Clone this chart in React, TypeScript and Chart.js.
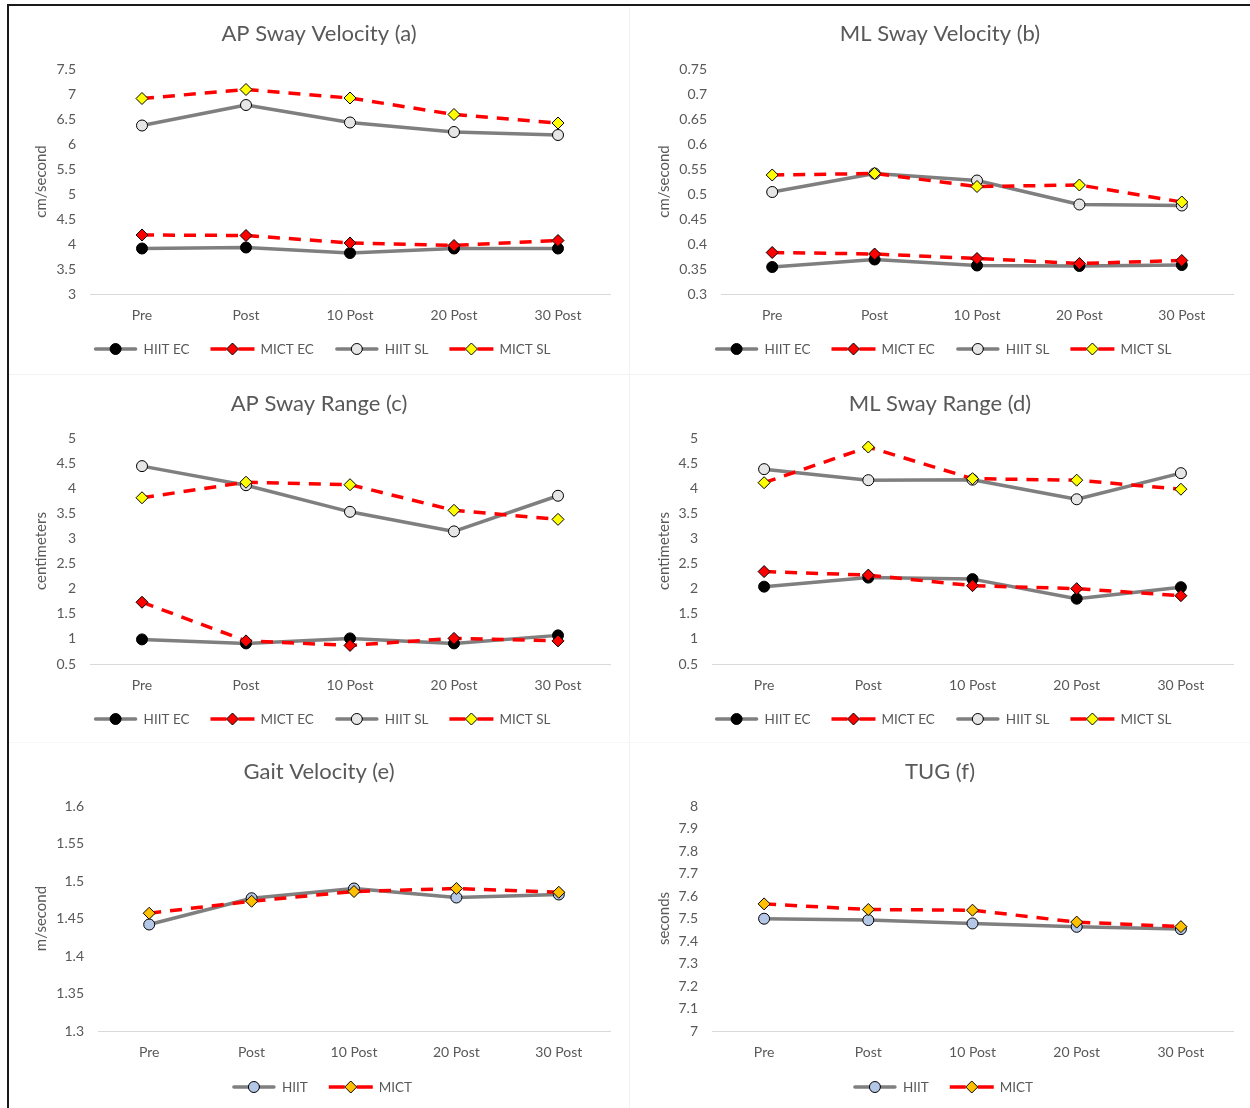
import React, { useEffect, useRef } from 'react';
import { Chart, registerables } from 'chart.js';

Chart.register(...registerables);

// ---------------- DATA ----------------
const categories = ['Pre', 'Post', '10 Post', '20 Post', '30 Post'];

const apVelHiitEC = [3.91, 3.93, 3.82, 3.91, 3.91];
const apVelMictEC = [4.18, 4.17, 4.02, 3.97, 4.07];
const apVelHiitSL = [6.37, 6.78, 6.43, 6.24, 6.18];
const apVelMictSL = [6.91, 7.09, 6.92, 6.59, 6.42];

const mlVelHiitEC = [0.354, 0.369, 0.357, 0.356, 0.358];
const mlVelMictEC = [0.383, 0.38, 0.371, 0.361, 0.367];
const mlVelHiitSL = [0.504, 0.541, 0.527, 0.479, 0.477];
const mlVelMictSL = [0.538, 0.541, 0.515, 0.518, 0.484];

const apRangeHiitEC = [0.99, 0.91, 1.01, 0.91, 1.07];
const apRangeMictEC = [1.73, 0.96, 0.87, 1.01, 0.96];
const apRangeHiitSL = [4.44, 4.06, 3.53, 3.14, 3.85];
const apRangeMictSL = [3.81, 4.12, 4.07, 3.56, 3.38];

const mlRangeHiitEC = [2.04, 2.22, 2.19, 1.8, 2.03];
const mlRangeMictEC = [2.34, 2.27, 2.06, 2.0, 1.86];
const mlRangeHiitSL = [4.38, 4.16, 4.17, 3.78, 4.3];
const mlRangeMictSL = [4.11, 4.82, 4.19, 4.16, 3.98];

const gaitHiit = [1.442, 1.477, 1.49, 1.478, 1.482];
const gaitMict = [1.457, 1.473, 1.486, 1.49, 1.485];

const tugHiit = [7.499, 7.493, 7.478, 7.463, 7.453];
const tugMict = [7.565, 7.54, 7.537, 7.484, 7.464];

// ---------------- STYLE ----------------
const FONT = 'Lato, "Open Sans", sans-serif';
const TEXT = '#595959';
const GRAY = '#7f7f7f';
const RED = '#ff0000';

type Kind = 'hiitEC' | 'mictEC' | 'hiitSL' | 'mictSL' | 'hiit' | 'mict';

const STYLES: Record<Kind, { line: string; dashed: boolean; shape: 'circle' | 'rectRot'; fill: string }> = {
  hiitEC: { line: GRAY, dashed: false, shape: 'circle', fill: '#000000' },
  mictEC: { line: RED, dashed: true, shape: 'rectRot', fill: '#ff0000' },
  hiitSL: { line: GRAY, dashed: false, shape: 'circle', fill: '#e7e6e6' },
  mictSL: { line: RED, dashed: true, shape: 'rectRot', fill: '#ffff00' },
  hiit: { line: GRAY, dashed: false, shape: 'circle', fill: '#b4c7e7' },
  mict: { line: RED, dashed: true, shape: 'rectRot', fill: '#ffc000' },
};

type SeriesSpec = { label: string; data: number[]; kind: Kind };
type PanelSpec = {
  title: string;
  yTitle: string;
  min: number;
  max: number;
  step: number;
  series: SeriesSpec[];
  box: { x: number; y: number; w: number; h: number };
  area: { l: number; r: number; t: number; b: number };
  titleY: number;
  legendY: number;
  yTitleX: number;
};

const fourSeries = (a: number[], b: number[], c: number[], d: number[]): SeriesSpec[] => [
  { label: 'HIIT EC', data: a, kind: 'hiitEC' },
  { label: 'MICT EC', data: b, kind: 'mictEC' },
  { label: 'HIIT SL', data: c, kind: 'hiitSL' },
  { label: 'MICT SL', data: d, kind: 'mictSL' },
];

const twoSeries = (a: number[], b: number[]): SeriesSpec[] => [
  { label: 'HIIT', data: a, kind: 'hiit' },
  { label: 'MICT', data: b, kind: 'mict' },
];

const PANELS: PanelSpec[] = [
  {
    title: 'AP Sway Velocity (a)', yTitle: 'cm/second', min: 3, max: 7.5, step: 0.5,
    series: fourSeries(apVelHiitEC, apVelMictEC, apVelHiitSL, apVelMictSL),
    box: { x: 9, y: 7, w: 620, h: 367 }, area: { l: 90, r: 610, t: 69, b: 294 },
    titleY: 34, legendY: 349, yTitleX: 41,
  },
  {
    title: 'ML Sway Velocity (b)', yTitle: 'cm/second', min: 0.3, max: 0.75, step: 0.05,
    series: fourSeries(mlVelHiitEC, mlVelMictEC, mlVelHiitSL, mlVelMictSL),
    box: { x: 630, y: 7, w: 620, h: 367 }, area: { l: 721, r: 1233, t: 69, b: 294 },
    titleY: 34, legendY: 349, yTitleX: 664,
  },
  {
    title: 'AP Sway Range (c)', yTitle: 'centimeters', min: 0.5, max: 5, step: 0.5,
    series: fourSeries(apRangeHiitEC, apRangeMictEC, apRangeHiitSL, apRangeMictSL),
    box: { x: 9, y: 375, w: 620, h: 367 }, area: { l: 90, r: 610, t: 438, b: 664 },
    titleY: 404, legendY: 719, yTitleX: 41,
  },
  {
    title: 'ML Sway Range (d)', yTitle: 'centimeters', min: 0.5, max: 5, step: 0.5,
    series: fourSeries(mlRangeHiitEC, mlRangeMictEC, mlRangeHiitSL, mlRangeMictSL),
    box: { x: 630, y: 375, w: 620, h: 367 }, area: { l: 712, r: 1233, t: 438, b: 664 },
    titleY: 404, legendY: 719, yTitleX: 664,
  },
  {
    title: 'Gait Velocity (e)', yTitle: 'm/second', min: 1.3, max: 1.6, step: 0.05,
    series: twoSeries(gaitHiit, gaitMict),
    box: { x: 9, y: 743, w: 620, h: 365 }, area: { l: 98, r: 610, t: 806, b: 1031 },
    titleY: 772, legendY: 1087, yTitleX: 41,
  },
  {
    title: 'TUG (f)', yTitle: 'seconds', min: 7, max: 8, step: 0.1,
    series: twoSeries(tugHiit, tugMict),
    box: { x: 630, y: 743, w: 620, h: 365 }, area: { l: 712, r: 1233, t: 806, b: 1031 },
    titleY: 772, legendY: 1087, yTitleX: 664,
  },
];

function drawMarker(ctx: CanvasRenderingContext2D, shape: string, x: number, y: number, r: number, fill: string) {
  ctx.beginPath();
  if (shape === 'circle') {
    ctx.arc(x, y, r, 0, Math.PI * 2);
  } else {
    ctx.moveTo(x - r, y);
    ctx.lineTo(x, y - r);
    ctx.lineTo(x + r, y);
    ctx.lineTo(x, y + r);
    ctx.closePath();
  }
  ctx.setLineDash([]);
  ctx.fillStyle = fill;
  ctx.fill();
  ctx.lineWidth = 1;
  ctx.strokeStyle = '#000000';
  ctx.stroke();
}

function Panel({ p }: { p: PanelSpec }) {
  const ref = useRef<HTMLCanvasElement>(null);

  useEffect(() => {
    const canvas = ref.current;
    if (!canvas) return;
    const { box, area } = p;
    const n = p.series.length;

    const decor = {
      id: 'excelDecor',
      afterDraw(chart: any) {
        const ctx: CanvasRenderingContext2D = chart.ctx;
        ctx.save();
        ctx.fillStyle = TEXT;
        ctx.textBaseline = 'middle';
        ctx.textAlign = 'center';
        ctx.font = `22px ${FONT}`;
        ctx.fillText(p.title, box.w / 2, p.titleY - box.y);

        // y axis title
        ctx.save();
        ctx.translate(p.yTitleX - box.x, (area.t + area.b) / 2 - box.y);
        ctx.rotate(-Math.PI / 2);
        ctx.font = `15px ${FONT}`;
        ctx.fillText(p.yTitle, 0, 0);
        ctx.restore();

        // legend
        ctx.font = `13.5px ${FONT}`;
        const lineLen = 44;
        const gapText = 6;
        const gapItem = 21;
        const widths = p.series.map((s) => lineLen + gapText + ctx.measureText(s.label).width);
        const total = widths.reduce((a, b) => a + b, 0) + gapItem * (n - 1);
        let x = box.w / 2 + 3 - total / 2;
        const y = p.legendY - box.y;
        p.series.forEach((s, i) => {
          const st = STYLES[s.kind];
          ctx.beginPath();
          ctx.strokeStyle = st.line;
          ctx.lineWidth = 3.5;
          if (st.dashed) {
            ctx.lineCap = 'butt';
            ctx.setLineDash([16, 12]);
          } else {
            ctx.lineCap = 'round';
            ctx.setLineDash([]);
          }
          ctx.moveTo(x + (st.dashed ? 0 : 2), y);
          ctx.lineTo(x + lineLen - (st.dashed ? 0 : 2), y);
          ctx.stroke();
          drawMarker(ctx, st.shape, x + lineLen / 2, y, st.shape === 'circle' ? 5.5 : 6, st.fill);
          ctx.fillStyle = TEXT;
          ctx.textAlign = 'left';
          ctx.fillText(s.label, x + lineLen + gapText, y + 0.5);
          x += widths[i] + gapItem;
        });
        ctx.restore();
      },
    };

    const chart = new Chart(canvas, {
      type: 'line',
      data: {
        labels: categories,
        datasets: p.series.map((s, i) => {
          const st = STYLES[s.kind];
          return {
            label: s.label,
            data: s.data,
            order: n - i,
            borderColor: st.line,
            backgroundColor: st.fill,
            borderWidth: 3.5,
            borderDash: st.dashed ? [12, 9] : [],
            borderCapStyle: st.dashed ? 'butt' : 'round',
            borderJoinStyle: 'round',
            tension: 0,
            fill: false,
            pointStyle: st.shape,
            pointRadius: st.shape === 'circle' ? 5.5 : 6,
            pointBackgroundColor: st.fill,
            pointBorderColor: '#000000',
            pointBorderWidth: 1,
            clip: false,
          } as any;
        }),
      },
      options: {
        responsive: false,
        animation: false,
        events: [],
        layout: {
          padding: { top: area.t - box.y, right: box.x + box.w - area.r, left: 0, bottom: 0 },
        },
        plugins: {
          legend: { display: false },
          title: { display: false },
          tooltip: { enabled: false },
        },
        scales: {
          x: {
            type: 'category',
            offset: true,
            grid: { display: false, drawTicks: false },
            border: { display: true, color: '#d9d9d9', width: 1 },
            ticks: {
              color: TEXT,
              font: { family: FONT, size: 14 },
              padding: 13,
              maxRotation: 0,
              autoSkip: false,
            },
            afterFit: (s: any) => {
              s.height = box.y + box.h - area.b;
            },
          },
          y: {
            type: 'linear',
            min: p.min,
            max: p.max,
            grid: { display: false, drawTicks: false },
            border: { display: false },
            ticks: {
              stepSize: p.step,
              color: TEXT,
              font: { family: FONT, size: 14 },
              padding: 14,
              callback: (v: any) => String(+Number(v).toFixed(4)),
            },
            afterFit: (s: any) => {
              s.width = area.l - box.x;
            },
          },
        },
      } as any,
      plugins: [decor],
    });
    return () => chart.destroy();
  }, [p]);

  return (
    <canvas
      ref={ref}
      width={p.box.w}
      height={p.box.h}
      style={{ position: 'absolute', left: p.box.x, top: p.box.y, width: p.box.w, height: p.box.h, display: 'block' }}
    />
  );
}

export default function App() {
  return (
    <div
      style={{
        position: 'absolute',
        left: 0,
        top: 0,
        width: 1250,
        height: 1108,
        background: '#ffffff',
        overflow: 'hidden',
      }}
    >
      {/* faint panel separators */}
      <div style={{ position: 'absolute', left: 629, top: 7, width: 1, height: 1101, background: '#f2f2f2' }} />
      <div style={{ position: 'absolute', left: 9, top: 374, width: 1241, height: 1, background: '#f2f2f2' }} />
      <div style={{ position: 'absolute', left: 9, top: 742, width: 1241, height: 1, background: '#f7f7f7' }} />
      {PANELS.map((p, i) => (
        <Panel key={i} p={p} />
      ))}
      {/* figure frame */}
      <div style={{ position: 'absolute', left: 7, top: 4, width: 1243, height: 2, background: '#1a1a1a' }} />
      <div style={{ position: 'absolute', left: 7, top: 4, width: 2, height: 1104, background: '#1a1a1a' }} />
    </div>
  );
}
